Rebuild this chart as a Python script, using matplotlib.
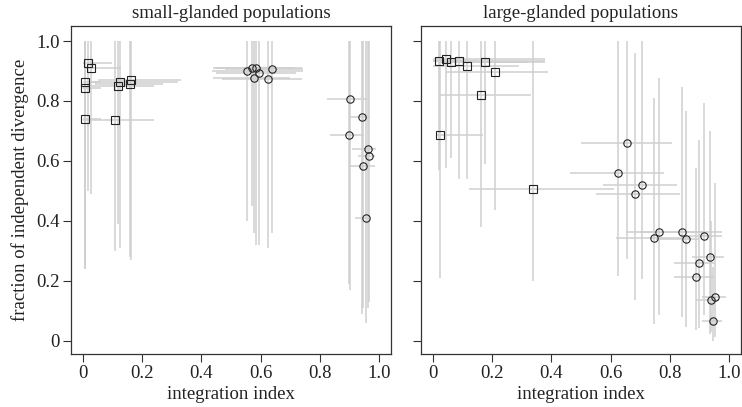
import matplotlib
matplotlib.use("Agg")
import matplotlib.pyplot as plt
import numpy as np

plt.rcParams['font.family'] = ['Liberation Serif', 'DejaVu Serif']

# ---------------- small-glanded populations ----------------
# squares
sm_sq_x    = [0.018, 0.029, 0.007, 0.007, 0.125, 0.119, 0.164, 0.159, 0.007, 0.108]
sm_sq_y    = [0.925, 0.911, 0.864, 0.842, 0.864, 0.849, 0.870, 0.858, 0.741, 0.738]
sm_sq_xlo  = [0.000, 0.007, 0.000, 0.000, 0.030, 0.030, 0.050, 0.040, 0.000, 0.000]
sm_sq_xhi  = [0.100, 0.130, 0.060, 0.060, 0.320, 0.240, 0.330, 0.270, 0.060, 0.240]
sm_sq_ylo  = [0.500, 0.490, 0.240, 0.260, 0.310, 0.390, 0.270, 0.280, 0.240, 0.300]
sm_sq_yhi  = [1.000, 1.000, 1.000, 1.000, 1.000, 1.000, 1.000, 1.000, 1.000, 1.000]
# circles
sm_ci_x    = [0.553, 0.570, 0.584, 0.596, 0.579, 0.624, 0.640,
              0.902, 0.944, 0.900, 0.963, 0.966, 0.945, 0.957]
sm_ci_y    = [0.901, 0.909, 0.909, 0.892, 0.875, 0.873, 0.905,
              0.806, 0.747, 0.687, 0.639, 0.616, 0.584, 0.408]
sm_ci_xlo  = [0.435, 0.446, 0.440, 0.450, 0.440, 0.470, 0.480,
              0.825, 0.900, 0.834, 0.910, 0.930, 0.900, 0.920]
sm_ci_xhi  = [0.745, 0.710, 0.740, 0.720, 0.700, 0.740, 0.745,
              0.958, 0.970, 0.949, 0.990, 0.985, 0.985, 0.970]
sm_ci_ylo  = [0.400, 0.450, 0.320, 0.320, 0.360, 0.310, 0.360,
              0.170, 0.090, 0.190, 0.110, 0.130, 0.110, 0.060]
sm_ci_yhi  = [1.000, 1.000, 1.000, 1.000, 1.000, 1.000, 1.000,
              1.000, 1.000, 1.000, 1.000, 1.000, 1.000, 1.000]

# ---------------- large-glanded populations ----------------
lg_sq_x    = [0.020, 0.044, 0.060, 0.088, 0.114, 0.177, 0.209, 0.163, 0.024, 0.337]
lg_sq_y    = [0.932, 0.941, 0.930, 0.933, 0.915, 0.931, 0.895, 0.819, 0.687, 0.507]
lg_sq_xlo  = [0.000, 0.000, 0.017, 0.000, 0.000, 0.020, 0.044, 0.024, 0.012, 0.122]
lg_sq_xhi  = [0.150, 0.380, 0.320, 0.380, 0.290, 0.380, 0.390, 0.330, 0.170, 0.610]
lg_sq_ylo  = [0.570, 0.575, 0.610, 0.540, 0.540, 0.590, 0.435, 0.380, 0.210, 0.200]
lg_sq_yhi  = [1.000, 1.000, 1.000, 1.000, 1.000, 1.000, 1.000, 1.000, 1.000, 1.000]

lg_ci_x    = [0.626, 0.654, 0.684, 0.706, 0.747, 0.764, 0.841, 0.855,
              0.916, 0.889, 0.899, 0.935, 0.938, 0.953, 0.947]
lg_ci_y    = [0.561, 0.658, 0.489, 0.519, 0.343, 0.361, 0.361, 0.339,
              0.349, 0.211, 0.259, 0.278, 0.135, 0.145, 0.065]
lg_ci_xlo  = [0.463, 0.500, 0.550, 0.576, 0.618, 0.652, 0.700, 0.753,
              0.865, 0.815, 0.815, 0.876, 0.888, 0.910, 0.910]
lg_ci_xhi  = [0.782, 0.809, 0.835, 0.825, 0.865, 0.916, 0.976, 0.900,
              0.975, 0.949, 0.953, 0.983, 0.966, 0.989, 0.975]
lg_ci_ylo  = [0.217, 0.273, 0.134, 0.206, 0.056, 0.087, 0.078, 0.047,
              0.084, 0.036, 0.043, 0.022, 0.030, 0.011, 0.000]
lg_ci_yhi  = [1.000, 1.000, 0.960, 1.000, 0.810, 0.875, 0.845, 0.766,
              0.794, 0.576, 0.670, 0.700, 0.400, 0.526, 0.245]

titles = ["small-glanded populations", "large-glanded populations"]
xticks = [0, 0.2, 0.4, 0.6, 0.8, 1.0]
xticklabels = ["0", "0.2", "0.4", "0.6", "0.8", "1.0"]
yticks = [0, 0.2, 0.4, 0.6, 0.8, 1.0]
yticklabels = ["0", "0.2", "0.4", "0.6", "0.8", "1.0"]

fig = plt.figure(figsize=(7.42, 4.07), dpi=100)
ax1 = fig.add_axes([0.0957, 0.130, 0.431, 0.806])
ax2 = fig.add_axes([0.5675, 0.130, 0.431, 0.806])

ecol = '#cfcfcf'

def draw(ax, groups):
    for (x, y, xlo, xhi, ylo, yhi, m, ms) in groups:
        ax.vlines(x, ylo, yhi, color=ecol, lw=1.1, zorder=1)
        ax.hlines(y, xlo, xhi, color=ecol, lw=1.1, zorder=1)
    for (x, y, xlo, xhi, ylo, yhi, m, ms) in groups:
        ax.plot(x, y, linestyle='none', marker=m, ms=ms, mfc='none',
                mec='#222222', mew=0.8, zorder=3)

draw(ax1, [(sm_sq_x, sm_sq_y, sm_sq_xlo, sm_sq_xhi, sm_sq_ylo, sm_sq_yhi, 's', 5.6),
           (sm_ci_x, sm_ci_y, sm_ci_xlo, sm_ci_xhi, sm_ci_ylo, sm_ci_yhi, 'o', 5.3)])
draw(ax2, [(lg_sq_x, lg_sq_y, lg_sq_xlo, lg_sq_xhi, lg_sq_ylo, lg_sq_yhi, 's', 5.6),
           (lg_ci_x, lg_ci_y, lg_ci_xlo, lg_ci_xhi, lg_ci_ylo, lg_ci_yhi, 'o', 5.3)])

for ax, t in zip([ax1, ax2], titles):
    ax.set_xlim(-0.04, 1.04)
    ax.set_ylim(-0.045, 1.05)
    ax.set_xticks(xticks)
    ax.set_xticklabels(xticklabels)
    ax.set_yticks(yticks)
    ax.set_yticklabels(yticklabels)
    ax.tick_params(direction='out', length=5.5, width=0.8, colors='#333333',
                   labelsize=13.5, labelcolor='#222222', pad=2.5)
    for s in ax.spines.values():
        s.set_color('#333333')
        s.set_linewidth(0.9)
    ax.set_title(t, fontsize=13.5, color='#222222', pad=6)
    ax.set_xlabel("integration index", fontsize=13.5, color='#222222', labelpad=3)

ax2.set_yticklabels([])
ax1.set_ylabel("fraction of independent divergence", fontsize=13.5, color='#222222', labelpad=5)

fig.savefig("out.png", dpi=100)
